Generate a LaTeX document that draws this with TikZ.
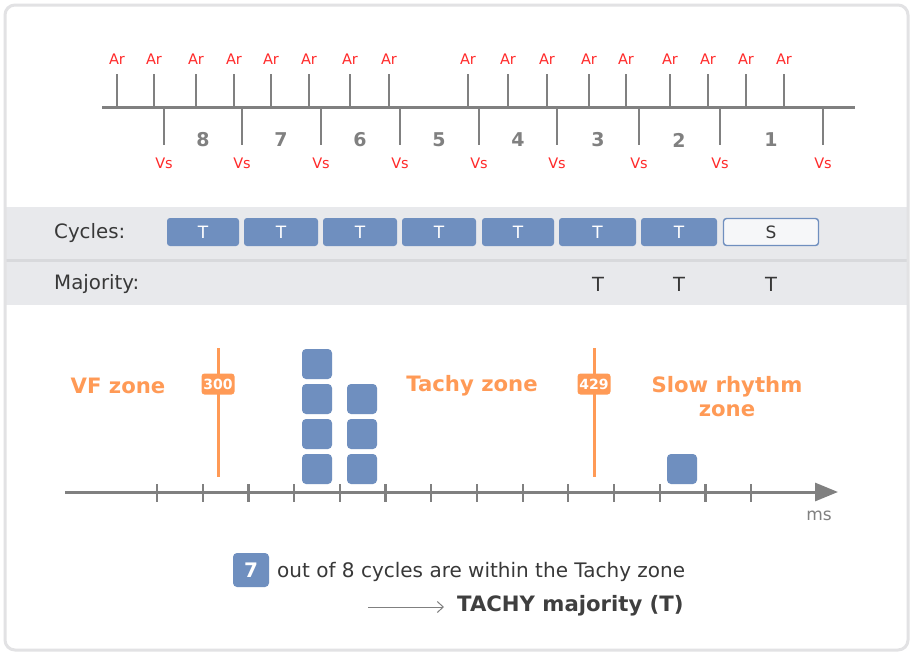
\documentclass[tikz,border=0pt]{standalone}
\usepackage{fontspec}
\setmainfont{DejaVu Sans}
\usetikzlibrary{arrows.meta}
\definecolor{tgray}{HTML}{808080}
\definecolor{arred}{HTML}{FF2A2A}
\definecolor{cblue}{HTML}{6F8FBF}
\definecolor{zorange}{HTML}{FF9A56}
\definecolor{bandc}{HTML}{E8E9EC}
\definecolor{bandline}{HTML}{D8D9DC}
\definecolor{framec}{HTML}{E2E2E4}
\definecolor{txt}{HTML}{383838}
\definecolor{sfill}{HTML}{F6F7F9}
\newcommand\myfs[1]{\fontsize{#1}{#1}\selectfont}
\tikzset{
  axisline/.style={draw=tgray, line width=3pt},
  tickline/.style={draw=tgray, line width=2.6pt},
  smalltick/.style={draw=tgray, line width=2.2pt},
  arlabel/.style={text=arred, font=\myfs{14.5}, inner sep=0pt},
  cyclenum/.style={text=tgray, font=\myfs{19}\bfseries, inner sep=0pt},
  cyc/.style={fill=cblue, rounded corners=3pt, minimum height=28pt, inner sep=0pt, text=white, font=\myfs{17}},
  cycs/.style={fill=sfill, draw=cblue, line width=1.4pt, rounded corners=3pt, minimum height=27pt, inner sep=0pt, text=txt, font=\myfs{17}},
  rowlabel/.style={text=txt, font=\myfs{19.8}, inner sep=0pt, anchor=west},
  majt/.style={text=txt, font=\myfs{19.5}, inner sep=0pt},
  thr/.style={draw=zorange, line width=3pt},
  thrbox/.style={fill=zorange, rounded corners=3pt, minimum width=33pt, minimum height=21pt, inner sep=0pt, text=white, font=\myfs{14}\bfseries},
  sq/.style={fill=cblue, rounded corners=4pt, minimum width=30pt, minimum height=30pt, inner sep=0pt},
  zone/.style={text=zorange, font=\myfs{21.2}\bfseries, inner sep=0pt, align=center},
}
\begin{document}
\begin{tikzpicture}[x=1pt,y=-1pt]
\useasboundingbox (0,0) rectangle (911,653);
\fill[white] (0,0) rectangle (911,653);
% bands
\fill[bandc] (6,207) rectangle (907,259);
\fill[bandline] (6,259) rectangle (907,262);
\fill[bandc] (6,262) rectangle (907,305);
\draw[framec, line width=3pt, rounded corners=10pt] (5,5) rectangle (908,650);

% top timeline
\coordinate (tl0) at (102,107);
\coordinate (tl1) at (855,107);
\draw[axisline] (tl0) -- (tl1);
\foreach \x [count=\i] in {117,154,196,234,271,309,350,389,468,508,547,589,626,670,708,746,784} {
  \coordinate (ar\i) at (\x,107);
  \coordinate (art\i) at (\x,74);
  \draw[tickline] (ar\i) -- (art\i);
  \node[arlabel] (arl\i) at (\x,59) {Ar};
}
\foreach \x [count=\i] in {164,242,321,400,479,557,639,720,823} {
  \coordinate (vs\i) at (\x,107);
  \coordinate (vsb\i) at (\x,145);
  \draw[tickline] (vs\i) -- (vsb\i);
  \node[arlabel] (vsl\i) at (\x,163) {Vs};
}
\foreach \x/\n in {203/8,281/7,360/6,439/5,518/4,598/3,679/2,771/1} {
  \node[cyclenum] (num\n) at (\x,140) {\n};
}

% cycles row
\node[rowlabel] (cyclab) at (54,233) {Cycles:};
\foreach \x/\w [count=\i] in {203/72,281/74,360/74,439/74,518/72,597.5/77,679/76} {
  \node[cyc, minimum width=\w pt] (c\i) at (\x,232) {T};
}
\node[cycs, minimum width=95pt] (c8) at (771,232) {S};

% majority row
\node[rowlabel] (majlab) at (54,284) {Majority:};
\node[majt] (m3) at (598,284) {T};
\node[majt] (m2) at (679,284) {T};
\node[majt] (m1) at (771,284) {T};

% lower chart axis
\coordinate (ax0) at (65,492);
\coordinate (ax1) at (838,492);
\draw[axisline, -{Triangle[length=23pt,width=18pt]}, tgray] (ax0) -- (ax1);
\foreach \i in {0,...,13} {
  \coordinate (tk\i) at ({157+45.7*\i},484);
  \coordinate (tkb\i) at ({157+45.7*\i},502);
  \draw[smalltick] (tk\i) -- (tkb\i);
}
\node[text=tgray, font=\myfs{17}, inner sep=0pt] (ms) at (819,516) {ms};

% thresholds
\coordinate (t3a) at (218,348);
\coordinate (t3b) at (218,477);
\draw[thr] (t3a) -- (t3b);
\node[thrbox] (b300) at (218,384) {300};
\coordinate (t4a) at (594,348);
\coordinate (t4b) at (594,477);
\draw[thr] (t4a) -- (t4b);
\node[thrbox] (b429) at (594,384) {429};

% zone labels
\node[zone] (vf) at (118,386) {VF zone};
\node[zone] (tachy) at (472,386) {Tachy zone};
\node[zone] (slow1) at (727,387) {Slow rhythm};
\node[zone] (slow2) at (727,411) {zone};

% squares
\node[sq] (s1) at (317,364) {};
\node[sq] (s2) at (317,399) {};
\node[sq] (s3) at (317,434) {};
\node[sq] (s4) at (317,469) {};
\node[sq] (s5) at (362,399) {};
\node[sq] (s6) at (362,434) {};
\node[sq] (s7) at (362,469) {};
\node[sq] (s8) at (682,469) {};

% bottom summary
\node[fill=cblue, rounded corners=4pt, minimum width=36pt, minimum height=34pt, inner sep=0pt, text=white, font=\myfs{20}\bfseries] (seven) at (251,570) {7};
\node[text=txt, font=\myfs{20}, inner sep=0pt, anchor=west] (outof) at (277,572) {out of 8 cycles are within the Tachy zone};
\coordinate (arS) at (368,607);
\coordinate (arE) at (444,607);
\draw[tgray, line width=1pt, -{Straight Barb[length=6pt,width=11pt]}] (arS) -- (arE);
\node[text=txt!90!gray, font=\myfs{21.2}\bfseries, inner sep=0pt, anchor=west] (result) at (457,606) {TACHY majority (T)};
\end{tikzpicture}
\end{document}
